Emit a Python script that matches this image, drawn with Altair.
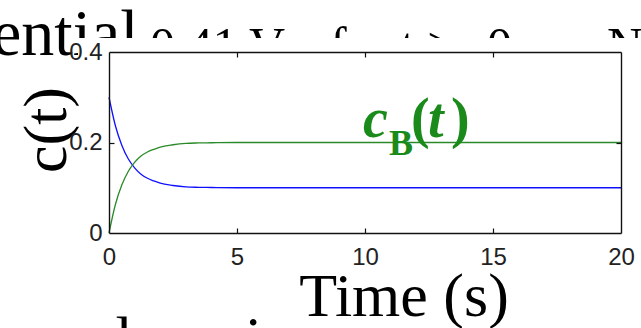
import altair as alt
import pandas as pd

# ---- data ----
t_vals = [0, 0.25, 0.5, 0.75, 1.0, 1.25, 1.5, 1.75, 2.0, 2.5, 3.0, 3.5, 4.0, 5.0, 7.0, 10.0, 15.0, 20.0]
c_a = [0.300, 0.237, 0.194, 0.164, 0.144, 0.130, 0.121, 0.115, 0.110, 0.105, 0.102, 0.101, 0.1005, 0.100, 0.100, 0.100, 0.100, 0.100]
c_b = [0.000, 0.063, 0.106, 0.136, 0.156, 0.170, 0.179, 0.185, 0.190, 0.195, 0.198, 0.199, 0.1995, 0.200, 0.200, 0.200, 0.200, 0.200]
species = ["A", "B"]
x_ticks = [0, 5, 10, 15, 20]
y_ticks = [0, 0.2, 0.4]
x_inner_ticks = [5, 10, 15]
y_inner_ticks = [0.2]

n = len(t_vals)
df = pd.DataFrame({
    "t": t_vals + t_vals,
    "c": c_a + c_b,
    "species": [species[0]] * n + [species[1]] * n,
})
one = pd.DataFrame({"k": [0]})

# ---- layout / style ----
LEFT, TOP = 109, 52
W, H = 512, 181
FULL_W, FULL_H = 641, 328
SANS = "Liberation Sans"
SERIF = "Liberation Serif"
BLUE = "#1010ff"
GREEN = "#2a8a2a"
TXT_GREEN = "#1a8a1a"
FRAME = "#111111"

xs = alt.Scale(domain=[0, 20], nice=False, zero=False)
ys = alt.Scale(domain=[0, 0.4], nice=False, zero=False)


def ax(orient, **kw):
    base = dict(orient=orient, grid=False, title=None, zindex=1)
    base.update(kw)
    return alt.Axis(**base)


def txt(s, xa, ya, size, weight="normal", style="normal", color="black",
        align="left", baseline="alphabetic", angle=0):
    return alt.Chart(one).mark_text(
        text=s, font=SERIF, fontSize=size, fontWeight=weight, fontStyle=style,
        color=color, align=align, baseline=baseline, angle=angle,
    ).encode(x=alt.value(xa - LEFT), y=alt.value(ya - TOP))


# background slide text (partly hidden behind the plot image)
bg_texts = [
    txt("ential", -8, 55, 66),
    txt("0.41 V", 150, 62, 50),
    txt("for t >", 330, 62, 50),
    txt("0", 487, 62, 50),
    txt("N", 607, 62, 50),
    txt("al", 88, 359, 62),
    txt("is", 245, 359, 62),
]

# white patch of the figure image hiding the lower part of the slide text
patch = alt.Chart(one).mark_rect(color="white").encode(
    x=alt.value(78 - LEFT), x2=alt.value(FULL_W - LEFT),
    y=alt.value(38 - TOP), y2=alt.value(75 - TOP),
)

lines = alt.Chart(df).mark_line(strokeWidth=1.3, interpolate="monotone").encode(
    x=alt.X("t:Q", scale=xs, axis=ax(
        "bottom", values=x_ticks, ticks=False, domain=True, domainColor=FRAME,
        domainWidth=1.4, labelFont=SANS, labelFontSize=24, labelColor="#222",
        labelPadding=12, labelFlush=False)),
    y=alt.Y("c:Q", scale=ys, axis=ax(
        "left", values=y_ticks, ticks=False, domain=True, domainColor=FRAME,
        domainWidth=1.4, labelFont=SANS, labelFontSize=24, labelColor="#222",
        labelPadding=7, labelExpr="format(datum.value, '~g')")),
    color=alt.Color("species:N", scale=alt.Scale(domain=species, range=[BLUE, GREEN]),
                    legend=None),
    detail="species:N",
)

frame = alt.Chart(df).mark_point(opacity=0).encode(
    x=alt.X("t:Q", scale=xs, axis=ax("top", ticks=False, labels=False, domain=True,
                                     domainColor=FRAME, domainWidth=1.4)),
    y=alt.Y("c:Q", scale=ys, axis=ax("right", ticks=False, labels=False, domain=True,
                                     domainColor=FRAME, domainWidth=1.4)),
)

ticks_bl = alt.Chart(df).mark_point(opacity=0).encode(
    x=alt.X("t:Q", scale=xs, axis=ax("bottom", values=x_inner_ticks, labels=False,
                                     domain=False, ticks=True, tickSize=5, offset=-5,
                                     tickColor=FRAME, tickWidth=1.2)),
    y=alt.Y("c:Q", scale=ys, axis=ax("left", values=y_inner_ticks, labels=False,
                                     domain=False, ticks=True, tickSize=5, offset=-5,
                                     tickColor=FRAME, tickWidth=1.2)),
)

ticks_tr = alt.Chart(df).mark_point(opacity=0).encode(
    x=alt.X("t:Q", scale=xs, axis=ax("top", values=x_inner_ticks, labels=False,
                                     domain=False, ticks=True, tickSize=5, offset=-5,
                                     tickColor=FRAME, tickWidth=1.2)),
    y=alt.Y("c:Q", scale=ys, axis=ax("right", values=y_inner_ticks, labels=False,
                                     domain=False, ticks=True, tickSize=5, offset=-5,
                                     tickColor=FRAME, tickWidth=1.2)),
)

labels = [
    txt("c(t)", 47, 130, 62, align="center", baseline="middle", angle=270),
    txt("Time (s)", 404, 316, 62, align="center"),
    txt("c", 363, 137, 56, weight="bold", style="italic", color=TXT_GREEN),
    txt("B", 389, 155, 36, weight="bold", color=TXT_GREEN),
    txt("(", 411, 137, 56, weight="bold", color=TXT_GREEN),
    txt("t", 428, 137, 56, weight="bold", style="italic", color=TXT_GREEN),
    txt(")", 451, 137, 56, weight="bold", color=TXT_GREEN),
]

chart = alt.layer(
    *bg_texts, patch, lines, frame, ticks_bl, ticks_tr, *labels
).resolve_axis(
    x="independent", y="independent"
).properties(
    width=W, height=H,
    padding={"left": LEFT, "top": TOP, "right": FULL_W - LEFT - W, "bottom": FULL_H - TOP - H},
    autosize=alt.AutoSizeParams(type="none"),
    background="white",
).configure_view(stroke=None)

chart.save("out.html", embed_options={"renderer": "svg", "actions": False})
